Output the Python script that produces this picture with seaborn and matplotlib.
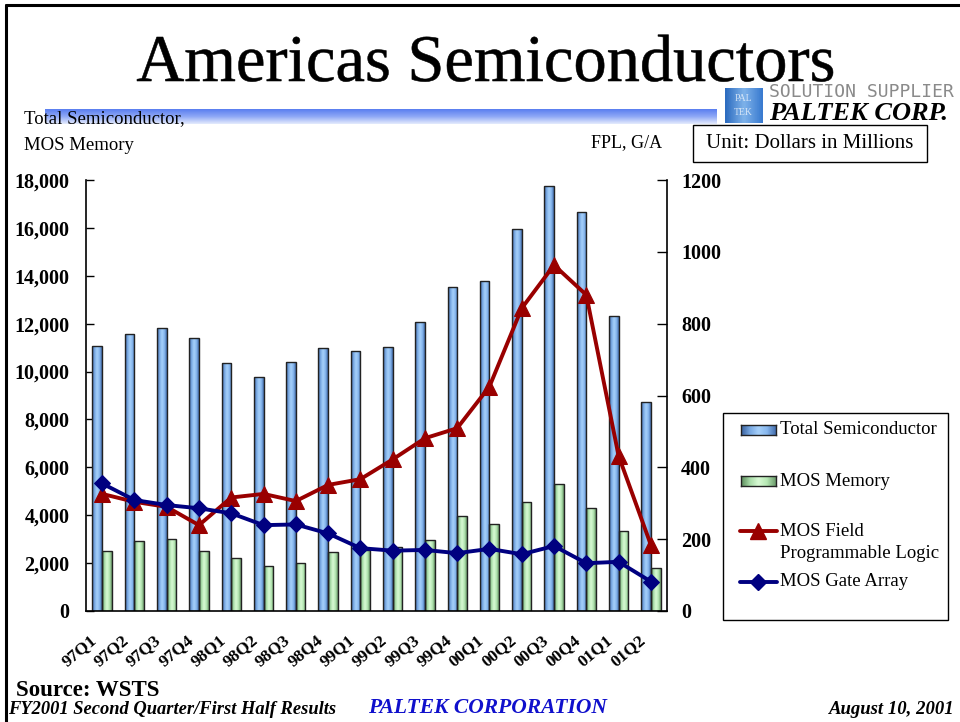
import numpy as np
import pandas as pd
import matplotlib.pyplot as plt
import seaborn as sns
from matplotlib.colors import LinearSegmentedColormap
from matplotlib.patches import Rectangle, PathPatch
from matplotlib.lines import Line2D
from matplotlib.textpath import TextPath
from matplotlib.font_manager import FontProperties
from matplotlib.transforms import Affine2D, IdentityTransform

quarters = ['97Q1', '97Q2', '97Q3', '97Q4', '98Q1', '98Q2', '98Q3', '98Q4', '99Q1',
            '99Q2', '99Q3', '99Q4', '00Q1', '00Q2', '00Q3', '00Q4', '01Q1', '01Q2']
total_semi = [11050, 11550, 11830, 11400, 10350, 9790, 10390, 10970, 10870,
              11010, 12080, 13540, 13790, 15940, 17750, 16660, 12330, 8740]
mos_memory = [2520, 2910, 3010, 2520, 2230, 1880, 1990, 2460, 2560,
              2690, 2950, 3980, 3630, 4550, 5300, 4310, 3340, 1800]
mos_fpl = [326, 304, 290, 239, 316, 326, 306, 351, 367,
           422, 481, 509, 625, 843, 963, 880, 432, 184]
mos_gate = [355, 309, 295, 286, 272, 239, 241, 216, 175,
            168, 170, 161, 173, 158, 181, 133, 137, 82]

sns.set_style("white")
plt.rcParams['font.family'] = ['Liberation Serif', 'DejaVu Serif']
plt.rcParams['text.color'] = 'black'
plt.rcParams['xtick.color'] = 'black'
plt.rcParams['ytick.color'] = 'black'

fig = plt.figure(figsize=(9.6, 7.22), dpi=100)
W, H = 960, 722

def fx(px):
    return px / W

def fy(py):
    return 1 - py / H

# slide frame (top and left)
fig.add_artist(Line2D([fx(6), 1], [fy(5), fy(5)], color='black', lw=2.2))
fig.add_artist(Line2D([fx(6), fx(6)], [fy(5), 0], color='black', lw=2.2))

# title: wide serif, fitted to the slide's box
tp = TextPath((0, 0), 'Americas Semiconductors', size=50, prop=FontProperties(family='Liberation Serif'))
ext = tp.get_extents()
cap = TextPath((0, 0), 'A', size=50, prop=FontProperties(family='Liberation Serif')).get_extents()
sx = (833 - 137) / ext.width
sy = 44 / cap.height
tr = Affine2D().translate(-ext.x0, 0).scale(sx, sy).translate(137, H - 81)
fig.add_artist(PathPatch(tr.transform_path(tp), transform=IdentityTransform(),
                         facecolor='black', edgecolor='black', lw=0.4))

# gradient band under the title
band = fig.add_axes([fx(45), fy(124), fx(717 - 45), 15 / H])
band_cmap = LinearSegmentedColormap.from_list('band', ['#5a7ef0', '#8fa8f6', '#e4ebfd'])
band.imshow(np.linspace(0, 1, 50).reshape(-1, 1), cmap=band_cmap, aspect='auto')
band.axis('off')

# logo
logo = fig.add_axes([fx(725), fy(123), fx(37), 35 / H])
logo_cmap = LinearSegmentedColormap.from_list('logo', ['#2d6cc0', '#7fb3ea', '#3a7bd0'])
logo.imshow(np.tile(np.linspace(0, 1, 20), (20, 1)), cmap=logo_cmap, aspect='auto')
logo.text(0.5, 0.7, 'PAL', color='white', ha='center', va='center', fontsize=7, transform=logo.transAxes, alpha=0.7)
logo.text(0.5, 0.3, 'TEK', color='white', ha='center', va='center', fontsize=7, transform=logo.transAxes, alpha=0.7)
logo.axis('off')
fig.text(fx(769), fy(92), 'SOLUTION SUPPLIER', family='DejaVu Sans Mono', fontsize=13, color='#8a8a8a', va='center')
fig.text(fx(769), fy(113), 'PALTEK CORP.', fontsize=19, weight='bold', style='italic', va='center')

# unit box
fig.add_artist(Rectangle((fx(693), fy(162)), fx(927 - 693), 37 / H, transform=fig.transFigure,
                         facecolor='white', edgecolor='black', lw=1))
fig.text(fx(810), fy(144), 'Unit: Dollars in Millions', ha='center', va='center', fontsize=15)

fig.text(fx(24), fy(119), 'Total Semiconductor,', fontsize=13.5, va='center')
fig.text(fx(24), fy(145), 'MOS Memory', fontsize=13.5, va='center')
fig.text(fx(662), fy(143), 'FPL, G/A', fontsize=13, va='center', ha='right')

# main axes
ax = fig.add_axes([fx(86), fy(611), fx(667 - 86), (611 - 180) / H])
bars = pd.DataFrame({
    'quarter': quarters * 2,
    'series': ['Total Semiconductor'] * len(quarters) + ['MOS Memory'] * len(quarters),
    'value': total_semi + mos_memory,
})
sns.barplot(data=bars, x='quarter', y='value', hue='series', ax=ax, width=0.6,
            palette=['#8cbcf0', '#c4f0c4'], edgecolor='#222222', linewidth=1.0,
            legend=False, saturation=1)

blue_cmap = LinearSegmentedColormap.from_list('bb', ['#3c64a0', '#78a8e2', '#a6d0fa', '#88b8ee', '#4670b0'])
green_cmap = LinearSegmentedColormap.from_list('gg', ['#5e8e5e', '#a8dca8', '#d8fad4', '#b6e8b4', '#6e9e6e'])
grad = np.linspace(0, 1, 30).reshape(1, -1)
for cont, cmap in zip(ax.containers, [blue_cmap, green_cmap]):
    for p in cont:
        x0, w, h = p.get_x(), p.get_width(), p.get_height()
        im = ax.imshow(grad, cmap=cmap, extent=[x0, x0 + w, 0, h], aspect='auto', zorder=1.5)
        im.set_clip_path(p)
        p.set_facecolor('none')
        p.set_zorder(2)

pos = np.arange(len(quarters))
ax.set_xlim(-0.5, len(quarters) - 0.5)
ax.set_ylim(0, 18000)
ax.set_yticks(range(0, 18001, 2000))
ax.set_yticklabels([f'{v:,}' for v in range(0, 18001, 2000)], fontsize=14.5, weight='bold')
ax.set_xticks(pos + 0.5)
ax.set_xticklabels([])
# slanted labels sit a little left of each group, as on the slide
ax.set_xticks(pos - 0.4, minor=True)
ax.set_xticklabels(quarters, minor=True, rotation=40, ha='right', va='top',
                   rotation_mode='anchor', fontsize=12.5, weight='bold')
ax.tick_params(axis='x', which='major', direction='in', length=4, width=1, color='black')
ax.tick_params(axis='x', which='minor', length=0, pad=15)
ax.tick_params(axis='y', direction='in', length=6, width=1, color='black', pad=12)
ax.set_xlabel('')
ax.set_ylabel('')
for s in ['left', 'bottom']:
    ax.spines[s].set_color('black')
    ax.spines[s].set_linewidth(1.2)
ax.spines['top'].set_visible(False)
ax.spines['right'].set_visible(False)

ax2 = ax.twinx()
sns.lineplot(x=pos, y=mos_fpl, ax=ax2, color='#990000', lw=2.8, marker='^', markersize=12,
             markeredgecolor='#990000', legend=False)
sns.lineplot(x=pos, y=mos_gate, ax=ax2, color='#000080', lw=2.8, marker='D', markersize=8.5,
             markeredgecolor='#000080', legend=False)
ax2.set_ylim(0, 1200)
ax2.set_xlim(-0.5, len(quarters) - 0.5)
ax2.set_yticks(range(0, 1201, 200))
ax2.set_yticklabels([str(v) for v in range(0, 1201, 200)], fontsize=14.5, weight='bold')
ax2.tick_params(axis='y', direction='in', length=7, width=1, color='black', pad=10)
ax2.spines['right'].set_color('black')
ax2.spines['right'].set_linewidth(1.2)
ax2.spines['top'].set_visible(False)
ax2.spines['left'].set_visible(False)
ax2.spines['bottom'].set_visible(False)
ax2.set_ylabel('')

# legend box, laid out like the slide
fig.add_artist(Rectangle((fx(723), fy(620)), fx(948 - 723), (620 - 413) / H, transform=fig.transFigure,
                         facecolor='white', edgecolor='black', lw=1, zorder=0.5))
for cmap, yc in [(blue_cmap, 430), (green_cmap, 481)]:
    sw = fig.add_axes([fx(741), fy(yc + 5), fx(35), 10 / H], zorder=2)
    sw.imshow(grad, cmap=cmap, aspect='auto')
    sw.set_xticks([])
    sw.set_yticks([])
    for s in sw.spines.values():
        s.set_color('#222222')
        s.set_linewidth(1)
fig.add_artist(Line2D([fx(740), fx(758), fx(777)], [fy(531)] * 3, color='#990000', lw=2.8,
                      marker='^', markersize=11, markevery=[1], transform=fig.transFigure, zorder=3))
fig.add_artist(Line2D([fx(740), fx(758), fx(777)], [fy(582)] * 3, color='#000080', lw=2.8,
                      marker='D', markersize=8, markevery=[1], transform=fig.transFigure, zorder=3))
for txt, yc in [('Total Semiconductor', 430), ('MOS Memory', 481), ('MOS Field', 531),
                ('Programmable Logic', 554), ('MOS Gate Array', 582)]:
    fig.text(fx(780), fy(yc), txt, fontsize=13.5, va='center')

# footer
fig.text(fx(16), fy(690), 'Source: WSTS', fontsize=16.5, weight='bold', va='center')
fig.text(fx(8), fy(709), 'FY2001 Second Quarter/First Half Results', fontsize=13.3, weight='bold',
         style='italic', va='center')
fig.text(fx(368), fy(708), 'PALTEK CORPORATION', fontsize=15.5, weight='bold', style='italic',
         color='#1010cc', va='center')
fig.text(fx(955), fy(710), 'August 10, 2001', fontsize=13.5, weight='bold', style='italic',
         va='center', ha='right')

fig.savefig('out.png', dpi=100)
